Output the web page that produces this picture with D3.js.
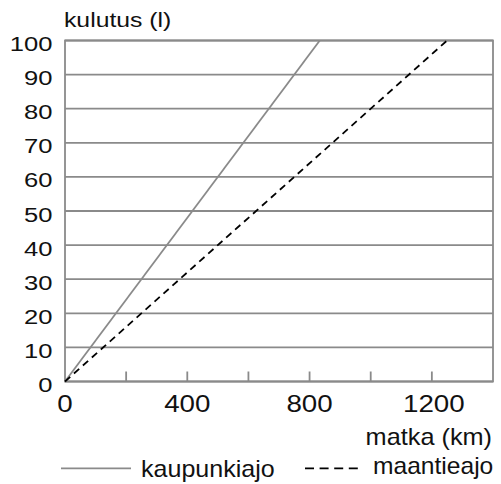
<!DOCTYPE html>
<html><head><meta charset="utf-8">
<script src="https://cdn.jsdelivr.net/npm/d3@7"></script>
<style>body{margin:0;background:#fff}svg{display:block}text{font-family:"Liberation Sans",Arial,sans-serif;fill:#111}</style>
</head><body><svg id="c" width="501" height="484"></svg>
<script>
const cityPoints = [[0,0],[833.3,100]];      // kaupunkiajo, 12 l/100 km
const highwayPoints = [[0,0],[1250,100]];    // maantieajo, 8 l/100 km
const yTicks = [0,10,20,30,40,50,60,70,80,90,100];
const xTickLabels = [0,400,800,1200];
const xMinorTicks = [200,400,600,800,1000,1200];
const seriesNames = ["kaupunkiajo","maantieajo"];
const yTitle = "kulutus (l)";
const xTitle = "matka (km)";

const svg = d3.select("#c");
const L=65,R=493,T=40.5,B=381.5;
const x = d3.scaleLinear().domain([0,1400]).range([L,R]);
const y = d3.scaleLinear().domain([0,100]).range([B,T]);
const grid="#8a8a8a";

function stext(g, tx, ty, size, sx, anchor, str){
  return g.append("text").attr("transform",`translate(${tx},${ty}) scale(${sx},1)`)
    .attr("font-size",size).attr("text-anchor",anchor).text(str);
}

// gridlines
svg.append("g").selectAll("line").data(yTicks).join("line")
  .attr("x1",L).attr("x2",R).attr("y1",d=>y(d)).attr("y2",d=>y(d))
  .attr("stroke",grid).attr("stroke-width",1.8);
svg.append("rect").attr("x",L).attr("y",T).attr("width",R-L).attr("height",B-T)
  .attr("fill","none").attr("stroke",grid).attr("stroke-width",1.8);
svg.append("g").selectAll("line").data(xMinorTicks).join("line")
  .attr("x1",d=>x(d)).attr("x2",d=>x(d)).attr("y1",B).attr("y2",B-10)
  .attr("stroke",grid).attr("stroke-width",1.8);

const gy = svg.append("g");
yTicks.forEach(d=>stext(gy,52.5,y(d)+10.5,20,1.28,"end",d));
const gx = svg.append("g");
xTickLabels.forEach(d=>stext(gx,x(d)+(d>=1000?2:0),411.5,23.5,1.18,"middle",d));
stext(svg,64,27,19.5,1.27,"start",yTitle);
stext(svg,492,445,23,1.1,"end",xTitle);

const line = d3.line().x(d=>x(d[0])).y(d=>y(d[1]));
svg.append("path").datum(cityPoints).attr("d",line).attr("fill","none")
  .attr("stroke","#8a8a8a").attr("stroke-width",1.8);
svg.append("path").datum(highwayPoints).attr("d",line).attr("fill","none")
  .attr("stroke","#000").attr("stroke-width",1.8).attr("stroke-dasharray","7,5");

// legend
svg.append("line").attr("x1",61).attr("x2",131).attr("y1",468.3).attr("y2",468.3)
  .attr("stroke","#8a8a8a").attr("stroke-width",1.8);
stext(svg,141,476.5,23,1.09,"start",seriesNames[0]);
svg.append("line").attr("x1",305).attr("x2",358).attr("y1",468.3).attr("y2",468.3)
  .attr("stroke","#000").attr("stroke-width",1.8).attr("stroke-dasharray","9,5.6");
stext(svg,373,474,23,1.07,"start",seriesNames[1]);
</script></body></html>
